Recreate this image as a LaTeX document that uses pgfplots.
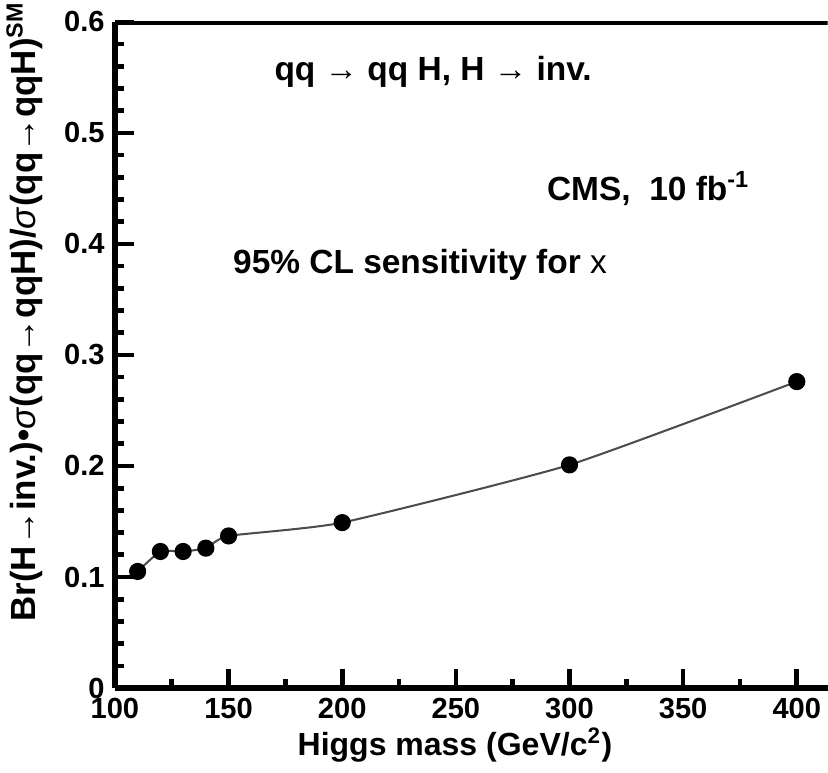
\documentclass[border=0pt]{standalone}
\usepackage{fontspec}
\setmainfont{Liberation Sans}
\usepackage{pgfplots}
\pgfplotsset{compat=1.18}

\begin{document}
\begin{tikzpicture}
\begin{axis}[
    scale only axis,
    width=245pt, height=229pt,
    xmin=100, xmax=413.6, ymin=0, ymax=0.6,
    axis lines=left,
    axis line style={-, line width=2pt},
    tick align=inside,
    xtick={100,150,200,250,300,350,400},
    minor x tick num=1,
    ytick={0,0.1,0.2,0.3,0.4,0.5,0.6},
    minor y tick num=4,
    major tick length=6.5pt, minor tick length=3pt,
    every tick/.style={black, line width=1.6pt},
    /pgf/number format/assume math mode=true,
    ticklabel style={font=\fontsize{10}{12}\selectfont\bfseries},
    every axis x label/.style={at={(axis description cs:0.477,-0.0856)}, anchor=center,
        font=\fontsize{11}{13}\selectfont\bfseries},
    every axis y label/.style={at={(axis description cs:-0.127,0.565)}, rotate=90, anchor=center,
        font=\fontsize{12}{14}\selectfont\bfseries},
    xlabel={Higgs mass (GeV/c\textsuperscript{2})},
    ylabel={Br(H→inv.)•\textnormal{\itshape σ}(qq→qqH)/\textnormal{\itshape σ}(qq→qqH)\textsuperscript{SM}},
]
\addplot[black!70, line width=0.7pt, smooth, tension=0.3,
    mark=*, mark size=2.6pt, mark options={solid, fill=black, draw=black}]
    coordinates {(110,0.105) (120,0.123) (130,0.123) (140,0.126) (150,0.137)
                 (200,0.149) (300,0.201) (400,0.276)};
\draw[line width=2pt] (rel axis cs:0,1) -- (rel axis cs:1,1);
\node[font=\fontsize{11.5}{13}\selectfont\bfseries] at (axis cs:240,0.555)
    {qq → qq H, H → inv.};
\node[anchor=west, font=\fontsize{11.5}{13}\selectfont\bfseries] at (axis cs:285.6,0.450)
    {CMS,\ \ 10 fb\textsuperscript{-1}};
\node[anchor=west, font=\fontsize{11.5}{13}\selectfont\bfseries] at (axis cs:147.5,0.381)
    {95\% CL sensitivity for \textnormal{x}};
\end{axis}
\pgfresetboundingbox
\path (-39.5pt,-28.9pt) rectangle (245.1pt,236.5pt);
\end{tikzpicture}
\end{document}
